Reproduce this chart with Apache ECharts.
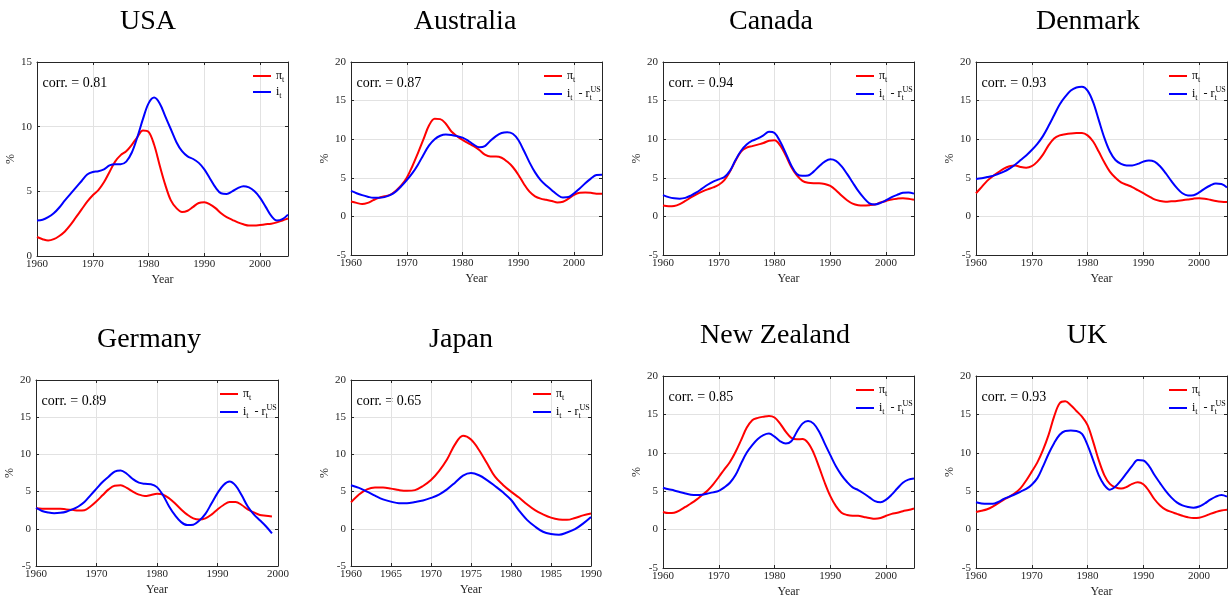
<!DOCTYPE html>
<html><head><meta charset="utf-8">
<script src="https://cdn.jsdelivr.net/npm/echarts@6/dist/echarts.min.js"></script>
<style>html,body{margin:0;padding:0;background:#fff}#c{width:1228px;height:601px}</style>
</head><body><div id="c"></div>
<script>
// ---------------- DATA ----------------
const countries = ['USA','Australia','Canada','Denmark','Germany','Japan','New Zealand','UK'];
const corrs = ['0.81','0.87','0.94','0.93','0.89','0.65','0.85','0.93'];
const startYears = [1960,1960,1960,1960,1960,1960,1960,1960];

const usaPi = [1.47,1.3,1.2,1.3,1.55,1.9,2.4,3.0,3.6,4.2, 4.7,5.1,5.7,6.5,7.3,7.8,8.1,8.6,9.2,9.7, 9.6,8.6,7.0,5.5,4.3,3.7,3.4,3.5,3.8,4.1, 4.15,4.0,3.7,3.3,3.0,2.8,2.6,2.45,2.35,2.35, 2.4,2.45,2.5,2.6,2.75,2.9];
const usaI  = [2.75,2.8,3.0,3.3,3.75,4.3,4.8,5.3,5.8,6.3, 6.5,6.55,6.7,7.0,7.1,7.1,7.3,8.0,9.2,10.6, 11.8,12.25,11.8,10.8,9.8,8.8,8.1,7.7,7.5,7.2, 6.7,6.0,5.3,4.85,4.8,5.0,5.25,5.4,5.3,5.0, 4.5,3.8,3.1,2.75,2.85,3.2];

const auPi = [1.92,1.75,1.6,1.75,2.1,2.4,2.6,2.8,3.3,4.0, 5.0,6.5,8.2,10.0,11.8,12.65,12.6,12.0,11.0,10.4, 9.9,9.5,9.1,8.6,8.0,7.75,7.75,7.6,7.1,6.4, 5.4,4.2,3.2,2.6,2.3,2.15,2.0,1.8,1.9,2.3, 2.8,3.05,3.1,3.05,2.95,2.95];
const auI  = [3.3,3.0,2.75,2.55,2.4,2.4,2.5,2.75,3.2,3.9, 4.7,5.6,6.7,8.0,9.2,10.0,10.45,10.6,10.55,10.4, 10.2,9.8,9.3,8.95,9.1,9.8,10.4,10.8,10.9,10.7, 9.9,8.5,7.0,5.7,4.7,4.0,3.4,2.8,2.45,2.5, 3.0,3.6,4.3,4.9,5.35,5.4];

const caPi = [1.4,1.3,1.35,1.6,2.0,2.45,2.85,3.2,3.5,3.75, 4.1,4.7,5.8,7.2,8.4,8.9,9.1,9.3,9.5,9.8, 9.85,9.2,7.9,6.4,5.3,4.6,4.35,4.3,4.3,4.2, 3.95,3.4,2.7,2.1,1.65,1.45,1.4,1.45,1.55,1.8, 2.0,2.2,2.3,2.35,2.3,2.15];
const caI  = [2.75,2.5,2.35,2.3,2.4,2.7,3.1,3.6,4.1,4.5, 4.8,5.1,5.9,7.3,8.5,9.3,9.8,10.1,10.5,10.95, 10.8,9.7,8.2,6.6,5.5,5.25,5.3,5.8,6.5,7.1, 7.4,7.2,6.5,5.5,4.4,3.3,2.4,1.7,1.55,1.75, 2.1,2.5,2.8,3.05,3.1,2.95];

const dkPi = [3.0,3.8,4.6,5.2,5.7,6.2,6.5,6.6,6.4,6.3, 6.5,7.1,8.0,9.2,10.1,10.5,10.65,10.75,10.8,10.8, 10.5,9.7,8.4,7.0,5.8,5.0,4.4,4.1,3.8,3.4, 3.0,2.6,2.2,2.0,1.9,1.95,2.0,2.1,2.2,2.3, 2.35,2.3,2.15,2.0,1.9,1.85];
const dkI  = [4.85,4.95,5.1,5.25,5.5,5.8,6.2,6.7,7.3,7.9, 8.6,9.4,10.4,11.7,13.1,14.5,15.5,16.3,16.7,16.8, 16.3,14.8,12.5,10.2,8.4,7.3,6.8,6.6,6.6,6.8, 7.1,7.25,7.1,6.5,5.6,4.6,3.7,3.0,2.7,2.75, 3.1,3.6,4.0,4.25,4.2,3.75];

const dePi = [2.75,2.7,2.7,2.7,2.7,2.6,2.55,2.45,2.5,3.0, 3.7,4.5,5.3,5.8,5.85,5.5,5.0,4.6,4.4,4.55, 4.7,4.6,4.1,3.4,2.6,1.9,1.4,1.25,1.4,1.9, 2.6,3.2,3.6,3.6,3.2,2.6,2.2,1.85,1.75,1.65];
const deI  = [2.8,2.4,2.2,2.1,2.15,2.3,2.6,3.0,3.6,4.5, 5.4,6.3,7.0,7.7,7.85,7.4,6.7,6.2,6.05,6.0, 5.6,4.5,3.0,1.8,0.9,0.5,0.55,1.1,2.0,3.4, 4.8,5.9,6.35,5.8,4.5,3.0,1.95,1.15,0.35,-0.6];

const jpPi = [3.55,4.6,5.3,5.55,5.55,5.4,5.2,5.1,5.2,5.75, 6.55,7.75,9.3,11.35,12.5,12.0,10.6,8.8,7.0,5.9, 5.0,4.2,3.3,2.5,1.95,1.5,1.25,1.2,1.45,1.8, 2.05];
const jpI  = [5.85,5.5,5.0,4.45,3.95,3.65,3.45,3.45,3.6,3.8, 4.15,4.6,5.3,6.2,7.15,7.5,7.2,6.55,5.75,4.9, 3.9,2.45,1.2,0.3,-0.4,-0.7,-0.8,-0.5,-0.05,0.7, 1.6];

const nzPi = [2.3,2.15,2.2,2.5,2.95,3.4,3.9,4.5,5.1,5.9, 6.85,7.85,8.8,10.1,11.65,13.25,14.25,14.55,14.7,14.8, 14.6,13.8,12.75,11.95,11.75,11.8,11.3,10.0,8.1,6.1, 4.35,3.05,2.2,1.9,1.8,1.8,1.65,1.5,1.4,1.5, 1.8,2.05,2.2,2.4,2.55,2.75];
const nzI  = [5.45,5.25,5.1,4.9,4.7,4.55,4.5,4.55,4.7,4.85, 5.05,5.5,6.1,7.1,8.6,10.0,11.0,11.8,12.3,12.5, 12.1,11.5,11.2,11.5,12.75,13.8,14.15,13.8,12.75,11.2, 9.7,8.25,7.1,6.2,5.5,5.15,4.7,4.2,3.7,3.55, 3.9,4.55,5.35,6.1,6.5,6.65];

const ukPi = [2.3,2.45,2.65,3.0,3.45,3.9,4.3,4.75,5.4,6.4, 7.55,8.75,10.35,12.3,14.7,16.45,16.7,16.2,15.45,14.7, 13.6,11.45,9.05,7.1,5.95,5.5,5.35,5.55,5.95,6.15, 5.9,5.05,3.95,3.15,2.6,2.3,2.05,1.8,1.6,1.5, 1.55,1.75,2.05,2.3,2.5,2.6];
const ukI  = [3.55,3.4,3.35,3.35,3.6,4.0,4.3,4.6,4.95,5.3, 5.85,6.7,8.2,9.85,11.25,12.35,12.85,12.9,12.85,12.45, 11.0,9.05,7.1,5.8,5.2,5.6,6.4,7.35,8.3,9.05, 9.0,8.3,7.1,6.05,5.05,4.2,3.55,3.15,2.95,2.85, 3.0,3.4,3.9,4.3,4.5,4.3];

const piSeries = [usaPi, auPi, caPi, dkPi, dePi, jpPi, nzPi, ukPi];
const iSeries  = [usaI, auI, caI, dkI, deI, jpI, nzI, ukI];
const blueNames = ['i','iUS','iUS','iUS','iUS','iUS','iUS','iUS'];

// axis ranges / tick labels
const xMins = [1960,1960,1960,1960,1960,1960,1960,1960];
const xMaxs = [2005,2005,2005,2005,2000,1990,2005,2005];
const xSteps = [10,10,10,10,10,5,10,10];
const yMins = [0,-5,-5,-5,-5,-5,-5,-5];
const yMaxs = [15,20,20,20,20,20,20,20];

// ---------------- LAYOUT / STYLE ----------------
const layout = [
  {left:37,  top:62,  width:251, height:194, tx:148,  ty:22},
  {left:351, top:62,  width:251, height:193, tx:465,  ty:22},
  {left:663, top:62,  width:251, height:193, tx:771,  ty:22},
  {left:976, top:62,  width:251, height:193, tx:1088, ty:22},
  {left:36,  top:380, width:242, height:186, tx:149,  ty:340},
  {left:351, top:380, width:240, height:186, tx:461,  ty:340},
  {left:663, top:376, width:251, height:192, tx:775,  ty:336},
  {left:976, top:376, width:251, height:192, tx:1087, ty:336}
];
const FONT = '"Liberation Serif", "DejaVu Serif", serif';
const AX = '#262626';
const GRIDC = '#e2e2e2';
const RED = '#ff0000', BLUE = '#0000ff';

const grid = [], xAxis = [], yAxis = [], series = [], legend = [], graphic = [];

const richStyles = {
  m:  {fontFamily: FONT, fontSize: 12, lineHeight: 16, color: '#000', verticalAlign: 'middle'},
  s:  {fontFamily: FONT, fontSize: 8,  lineHeight: 8,  color: '#000', verticalAlign: 'bottom'},
  sb: {fontFamily: FONT, fontSize: 8,  lineHeight: 8,  color: '#000', verticalAlign: 'bottom', width: 1},
  sp: {fontFamily: FONT, fontSize: 8,  lineHeight: 8,  color: '#000', verticalAlign: 'top'}
};
function legendFmt(name) {
  if (name === 'π') return '{m|π}{s|t}';
  if (name === 'i') return '{m|i}{s|t}';
  return '{m|i}{s|t}{m|  - r}{sb|t}{sp|US}';
}

countries.forEach((cname, k) => {
  const L = layout[k];
  grid.push({left: L.left, top: L.top, width: L.width, height: L.height, containLabel: false, outerBoundsMode: 'none'});
  const axisLine = {show: true, onZero: false, lineStyle: {color: AX, width: 1}};
  const axisTick = {show: true, inside: true, length: 3, lineStyle: {color: AX, width: 1}};
  xAxis.push({
    gridIndex: k, type: 'value', position: 'bottom', min: xMins[k], max: xMaxs[k], interval: xSteps[k],
    axisLine, axisTick,
    axisLabel: {color: AX, fontFamily: FONT, fontSize: 11, margin: 3,
      formatter: v => String(v),
      showMaxLabel: (xMaxs[k] - xMins[k]) % xSteps[k] === 0, hideOverlap: false},
    splitLine: {show: true, lineStyle: {color: GRIDC, width: 1}},
    name: 'Year', nameLocation: 'middle', nameGap: 18,
    nameTextStyle: {color: AX, fontFamily: FONT, fontSize: 12}
  });
  xAxis.push({
    gridIndex: k, type: 'value', position: 'top', min: xMins[k], max: xMaxs[k], interval: xSteps[k],
    axisLine, axisTick, axisLabel: {show: false}, splitLine: {show: false}
  });
  yAxis.push({
    gridIndex: k, type: 'value', position: 'left', min: yMins[k], max: yMaxs[k], interval: 5,
    axisLine, axisTick,
    axisLabel: {color: AX, fontFamily: FONT, fontSize: 11, margin: 5},
    splitLine: {show: true, lineStyle: {color: GRIDC, width: 1}},
    name: '%', nameLocation: 'middle', nameGap: 20, nameRotate: 90,
    nameTextStyle: {color: AX, fontFamily: FONT, fontSize: 12}
  });
  yAxis.push({
    gridIndex: k, type: 'value', position: 'right', min: yMins[k], max: yMaxs[k], interval: 5,
    axisLine, axisTick, axisLabel: {show: false}, splitLine: {show: false}
  });
  const yrs = piSeries[k].map((_, j) => startYears[k] + j);
  series.push({
    type: 'line', name: 'π', xAxisIndex: 2 * k, yAxisIndex: 2 * k,
    data: yrs.map((y, j) => [y, piSeries[k][j]]),
    showSymbol: false, smooth: 0.35, color: RED,
    lineStyle: {width: 2, color: RED}, itemStyle: {color: RED}, z: 3
  });
  series.push({
    type: 'line', name: blueNames[k], xAxisIndex: 2 * k, yAxisIndex: 2 * k,
    data: yrs.map((y, j) => [y, iSeries[k][j]]),
    showSymbol: false, smooth: 0.35, color: BLUE,
    lineStyle: {width: 2, color: BLUE}, itemStyle: {color: BLUE}, z: 4
  });
  const offs = blueNames[k] === 'i' ? 35 : 58;
  legend.push({
    orient: 'vertical', left: L.left + L.width - offs, top: L.top + 8,
    padding: 0, itemGap: 2, itemWidth: 18, itemHeight: 2, icon: 'rect',
    selectedMode: false, data: ['π', blueNames[k]], formatter: legendFmt,
    textStyle: {rich: richStyles}
  });
  graphic.push({type: 'text', x: L.tx, y: L.ty, silent: true,
    style: {text: cname, fill: '#000', font: '28px ' + FONT, textAlign: 'center', textVerticalAlign: 'middle', align: 'center', verticalAlign: 'middle'}});
  graphic.push({type: 'text', x: L.left + 5.5, y: L.top + 21, silent: true,
    style: {text: 'corr. = ' + corrs[k], fill: '#000', font: '14px ' + FONT, textAlign: 'left', textVerticalAlign: 'middle', align: 'left', verticalAlign: 'middle'}});
});

const chart = echarts.init(document.getElementById('c'), null, {renderer: 'canvas'});
chart.setOption({animation: false, backgroundColor: '#fff', grid, xAxis, yAxis, series, legend, graphic});
</script>
</body></html>
